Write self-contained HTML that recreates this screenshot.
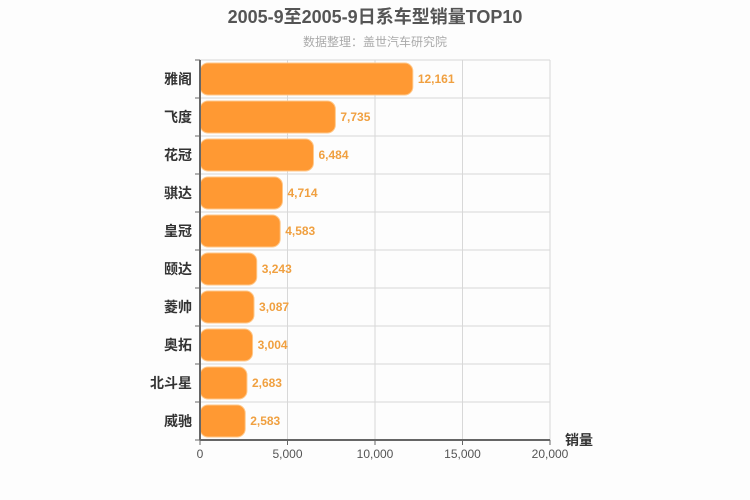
<!DOCTYPE html>
<html><head><meta charset="utf-8"><style>
html,body{margin:0;padding:0;background:#fdfdfd;}
svg{display:block;font-family:"Liberation Sans","DejaVu Sans","Noto Sans CJK SC",sans-serif;}
</style></head><body>
<svg id="chart" width="750" height="500">
<rect x="0" y="0" width="750" height="500" fill="#fdfdfd"/>
<text x="375" y="23" text-anchor="middle" font-size="18" font-weight="bold" fill="#555">2005-9至2005-9日系车型销量TOP10</text>
<text x="375" y="46" text-anchor="middle" font-size="12" fill="#aaa">数据整理：盖世汽车研究院</text>
<g id="grid"></g>
<g id="bars"></g>
<g id="axes"></g>
<text x="565" y="445" font-size="14" font-weight="bold" fill="#333">销量</text>
</svg>
<script>
const categories = ["雅阁","飞度","花冠","骐达","皇冠","颐达","菱帅","奥拓","北斗星","威驰"];
const sales = [12161,7735,6484,4714,4583,3243,3087,3004,2683,2583];
const xTicks = [0,5000,10000,15000,20000];
const xTickLabels = ["0","5,000","10,000","15,000","20,000"];

const NS="http://www.w3.org/2000/svg";
const L=200,R=550,T=60,B=440,XMAX=20000;
const band=(B-T)/categories.length;
const x=v=>L+(v/XMAX)*(R-L);
const y=i=>T+i*band;
function mk(tag,attrs,parent){const e=document.createElementNS(NS,tag);for(const k in attrs)e.setAttribute(k,attrs[k]);parent.appendChild(e);return e;}
const grid=document.getElementById('grid'),bars=document.getElementById('bars'),axes=document.getElementById('axes');
// vertical grid
xTicks.forEach((t,i)=>{
  const g=mk('line',{x1:x(t),x2:x(t),y1:T,y2:B,stroke:'#d8d8d8','stroke-width':1},grid);
  
  
  const tk=mk('line',{x1:x(t),x2:x(t),y1:B,y2:B+5,stroke:'#666','stroke-width':1},axes);
  
  
  const lb=mk('text',{x:x(t),y:B+18,'text-anchor':'middle','font-size':12,fill:'#555'},axes);
  lb.textContent=xTickLabels[i];
  
  
});
// horizontal grid
for(let i=0;i<=categories.length;i++){
  const g=mk('line',{x1:L,x2:R,y1:y(i),y2:y(i),stroke:'#d8d8d8','stroke-width':1},grid);
  
  
  const tk=mk('line',{x1:L-5,x2:L,y1:y(i),y2:y(i),stroke:'#666','stroke-width':1},axes);
  
  
}
categories.forEach((c,i)=>{
  const r=mk('rect',{x:L,y:y(i)+3,width:x(sales[i])-L,height:band-6,rx:8,ry:8,fill:'#ff9933',stroke:'#ffc88a','stroke-width':1},bars);
  
  
  const v=mk('text',{x:x(sales[i])+5,y:y(i)+band/2+4,'font-size':12,'font-weight':'bold',fill:'#f0a040'},bars);
  v.textContent=sales[i].toLocaleString('en-US');
  
  
  const cl=mk('text',{x:L-8,y:y(i)+band/2+5,'text-anchor':'end','font-size':14,'font-weight':'bold',fill:'#333'},axes);
  cl.textContent=c;
  
  
});
const ya=mk('line',{x1:L,x2:L,y1:T,y2:B,stroke:'#666','stroke-width':2},axes);


const xa=mk('line',{x1:L,x2:R,y1:B,y2:B,stroke:'#666','stroke-width':2},axes);


</script>
</body></html>
